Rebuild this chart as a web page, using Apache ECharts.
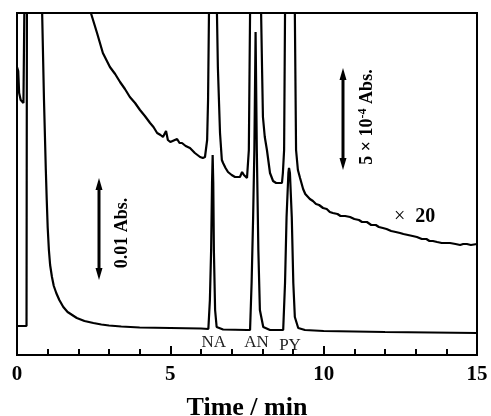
<!DOCTYPE html>
<html>
<head>
<meta charset="utf-8">
<script src="https://cdn.jsdelivr.net/npm/echarts@6/dist/echarts.min.js"></script>
<style>
html,body{margin:0;padding:0;background:#fff;}
#chart{width:491px;height:416px;}
</style>
</head>
<body>
<div id="chart"></div>
<script>
// 原始谱图 (×1) : [时间/min, 吸光度(任意单位)]
var lowerTrace = [
    [0.00, 29], [0.31, 29], [0.33, 500], [0.80, 500], [0.82, 342], [0.88, 255],
    [0.94, 185], [0.97, 155], [1.00, 128], [1.04, 105], [1.08, 90], [1.14, 78],
    [1.20, 69], [1.28, 62], [1.38, 55], [1.51, 48], [1.65, 43], [1.80, 40],
    [1.95, 37], [2.20, 34], [2.49, 32], [2.75, 30.5], [3.00, 29.5], [3.40, 28.5],
    [4.00, 27.5], [5.00, 27], [6.00, 26.5],
    [6.24, 26], [6.29, 55], [6.33, 105], [6.36, 172], [6.38, 200], [6.40, 172],
    [6.42, 105], [6.46, 45], [6.51, 28], [6.72, 25.5], [7.50, 25],
    [7.60, 25], [7.65, 72], [7.70, 138], [7.74, 205], [7.78, 323], [7.82, 205],
    [7.87, 105], [7.92, 45], [8.03, 28], [8.25, 25], [8.60, 25],
    [8.68, 25], [8.74, 72], [8.79, 138], [8.85, 182], [8.87, 187], [8.90, 182],
    [8.96, 138], [9.01, 72], [9.06, 38], [9.17, 27], [9.39, 25], [10.0, 24],
    [12.0, 23], [15.0, 22]
];
// 放大20倍的谱图
var upperTrace = [
    [0.00, 288], [0.04, 284], [0.07, 262], [0.12, 255], [0.21, 252], [0.26, 251],
    [0.29, 500], [2.35, 500], [2.41, 342], [2.61, 322], [2.80, 302], [3.03, 288],
    [3.20, 281], [3.36, 273], [3.52, 266], [3.68, 258], [3.85, 252], [4.01, 245],
    [4.17, 239], [4.34, 232], [4.45, 228], [4.57, 222], [4.68, 220], [4.76, 218],
    [4.86, 224], [4.92, 215], [5.00, 213], [5.05, 212], [5.22, 216], [5.30, 212],
    [5.38, 212], [5.50, 209], [5.64, 207], [5.80, 202], [5.97, 198], [6.06, 197],
    [6.13, 198], [6.20, 215], [6.23, 255], [6.26, 342], [6.30, 500], [6.49, 500],
    [6.52, 342], [6.55, 288], [6.62, 222], [6.68, 195], [6.72, 192], [6.80, 187],
    [6.88, 183], [7.00, 180], [7.11, 178], [7.20, 178], [7.27, 178], [7.34, 183],
    [7.40, 180], [7.46, 178], [7.50, 177], [7.53, 178], [7.56, 205], [7.60, 342],
    [7.64, 500], [7.93, 500], [7.96, 342], [7.99, 288], [8.02, 238], [8.08, 218],
    [8.15, 205], [8.25, 182], [8.35, 174], [8.45, 172], [8.51, 172], [8.64, 172],
    [8.67, 182], [8.71, 205], [8.74, 342], [8.78, 500], [9.03, 500], [9.06, 342],
    [9.10, 205], [9.16, 185], [9.23, 177], [9.33, 166], [9.40, 161], [9.46, 159],
    [9.55, 156], [9.65, 154], [9.75, 151], [9.85, 150], [9.98, 147], [10.10, 146],
    [10.20, 143], [10.30, 142], [10.45, 141], [10.55, 139], [10.70, 139], [10.86, 138],
    [11.00, 136], [11.15, 135], [11.25, 133], [11.41, 133], [11.55, 130], [11.70, 130],
    [11.80, 128], [11.93, 127], [12.05, 126], [12.20, 124], [12.35, 123], [12.49, 122],
    [12.60, 121], [12.75, 120], [12.90, 119], [13.04, 118], [13.20, 116], [13.35, 116],
    [13.45, 114], [13.56, 114], [13.70, 113], [13.85, 112], [14.00, 112], [14.12, 112],
    [14.30, 111], [14.45, 110], [14.55, 111], [14.67, 111], [14.80, 110], [15.00, 111]
];
var xTicks = [0, 5, 10, 15];
var peakNames = ['NA', 'AN', 'PY'];
var peakTimes = [6.38, 7.78, 8.87];

var font = 'Liberation Serif';
var myChart = echarts.init(document.getElementById('chart'));

var option = {
    animation: false,
    grid: {
        left: 17, right: 14, top: 13, bottom: 61,
        outerBoundsMode: 'none',
        show: true, borderColor: '#000', borderWidth: 2
    },
    xAxis: {
        type: 'value',
        min: xTicks[0],
        max: xTicks[xTicks.length - 1],
        interval: 5,
        name: 'Time / min',
        nameLocation: 'middle',
        nameGap: 40,
        nameTextStyle: { fontFamily: font, fontWeight: 'bold', fontSize: 26, color: '#000' },
        axisLine: { show: true, lineStyle: { color: '#000', width: 2 } },
        axisTick: { show: true, inside: true, length: 9, lineStyle: { color: '#000', width: 2 } },
        minorTick: { show: true, splitNumber: 5, length: 6, lineStyle: { color: '#000', width: 2 } },
        axisLabel: { fontFamily: font, fontWeight: 'bold', fontSize: 21, color: '#000', margin: 9 },
        splitLine: { show: false }
    },
    yAxis: {
        type: 'value',
        min: 0,
        max: 342,
        show: false
    },
    series: [
        {
            name: 'x1',
            type: 'line',
            data: lowerTrace,
            showSymbol: false,
            lineStyle: { color: '#000', width: 2.2 }
        },
        {
            name: 'x20',
            type: 'line',
            data: upperTrace,
            showSymbol: false,
            lineStyle: { color: '#000', width: 2.2 }
        }
    ]
};
myChart.setOption(option);

// 双向箭头
function arrow(x, y1, y2) {
    return [
        { type: 'line', shape: { x1: x, y1: y1 + 8, x2: x, y2: y2 - 8 }, style: { stroke: '#000', lineWidth: 3 } },
        { type: 'polygon', shape: { points: [[x, y1], [x - 3.5, y1 + 12], [x + 3.5, y1 + 12]] }, style: { fill: '#000' } },
        { type: 'polygon', shape: { points: [[x, y2], [x - 3.5, y2 - 12], [x + 3.5, y2 - 12]] }, style: { fill: '#000' } }
    ];
}

var graphics = [];
graphics = graphics.concat(arrow(99, 178, 280));
graphics = graphics.concat(arrow(343, 68, 170));
graphics.push({
    type: 'text', x: 122, y: 233, rotation: Math.PI / 2,
    style: { text: '0.01 Abs.', font: 'bold 18px ' + font, fill: '#000', align: 'center', verticalAlign: 'middle' }
});
graphics.push({
    type: 'text', x: 367, y: 117, rotation: Math.PI / 2,
    style: {
        text: '{a|5 × 10}{s|-4}{a| Abs.}', align: 'center', verticalAlign: 'middle',
        rich: {
            a: { fontFamily: font, fontWeight: 'bold', fontSize: 18, fill: '#000' },
            s: { fontFamily: font, fontWeight: 'bold', fontSize: 12, fill: '#000', verticalAlign: 'top', padding: [0, 0, 8, 0] }
        }
    }
});
graphics.push({
    type: 'text', x: 394, y: 217,
    style: {
        text: '{x|×}{b|  20}', verticalAlign: 'middle',
        rich: {
            x: { fontFamily: font, fontSize: 20, fill: '#000' },
            b: { fontFamily: font, fontWeight: 'bold', fontSize: 20, fill: '#000' }
        }
    }
});
for (var i = 0; i < peakNames.length; i++) {
    var p = myChart.convertToPixel({ gridIndex: 0 }, [peakTimes[i], 0]);
    graphics.push({
        type: 'text', x: p[0] + 1, y: i == 2 ? 346 : 343,
        style: { text: peakNames[i], font: '17px ' + font, fill: '#222', align: 'center', verticalAlign: 'middle' }
    });
}
myChart.setOption({ graphic: graphics });
</script>
</body>
</html>
